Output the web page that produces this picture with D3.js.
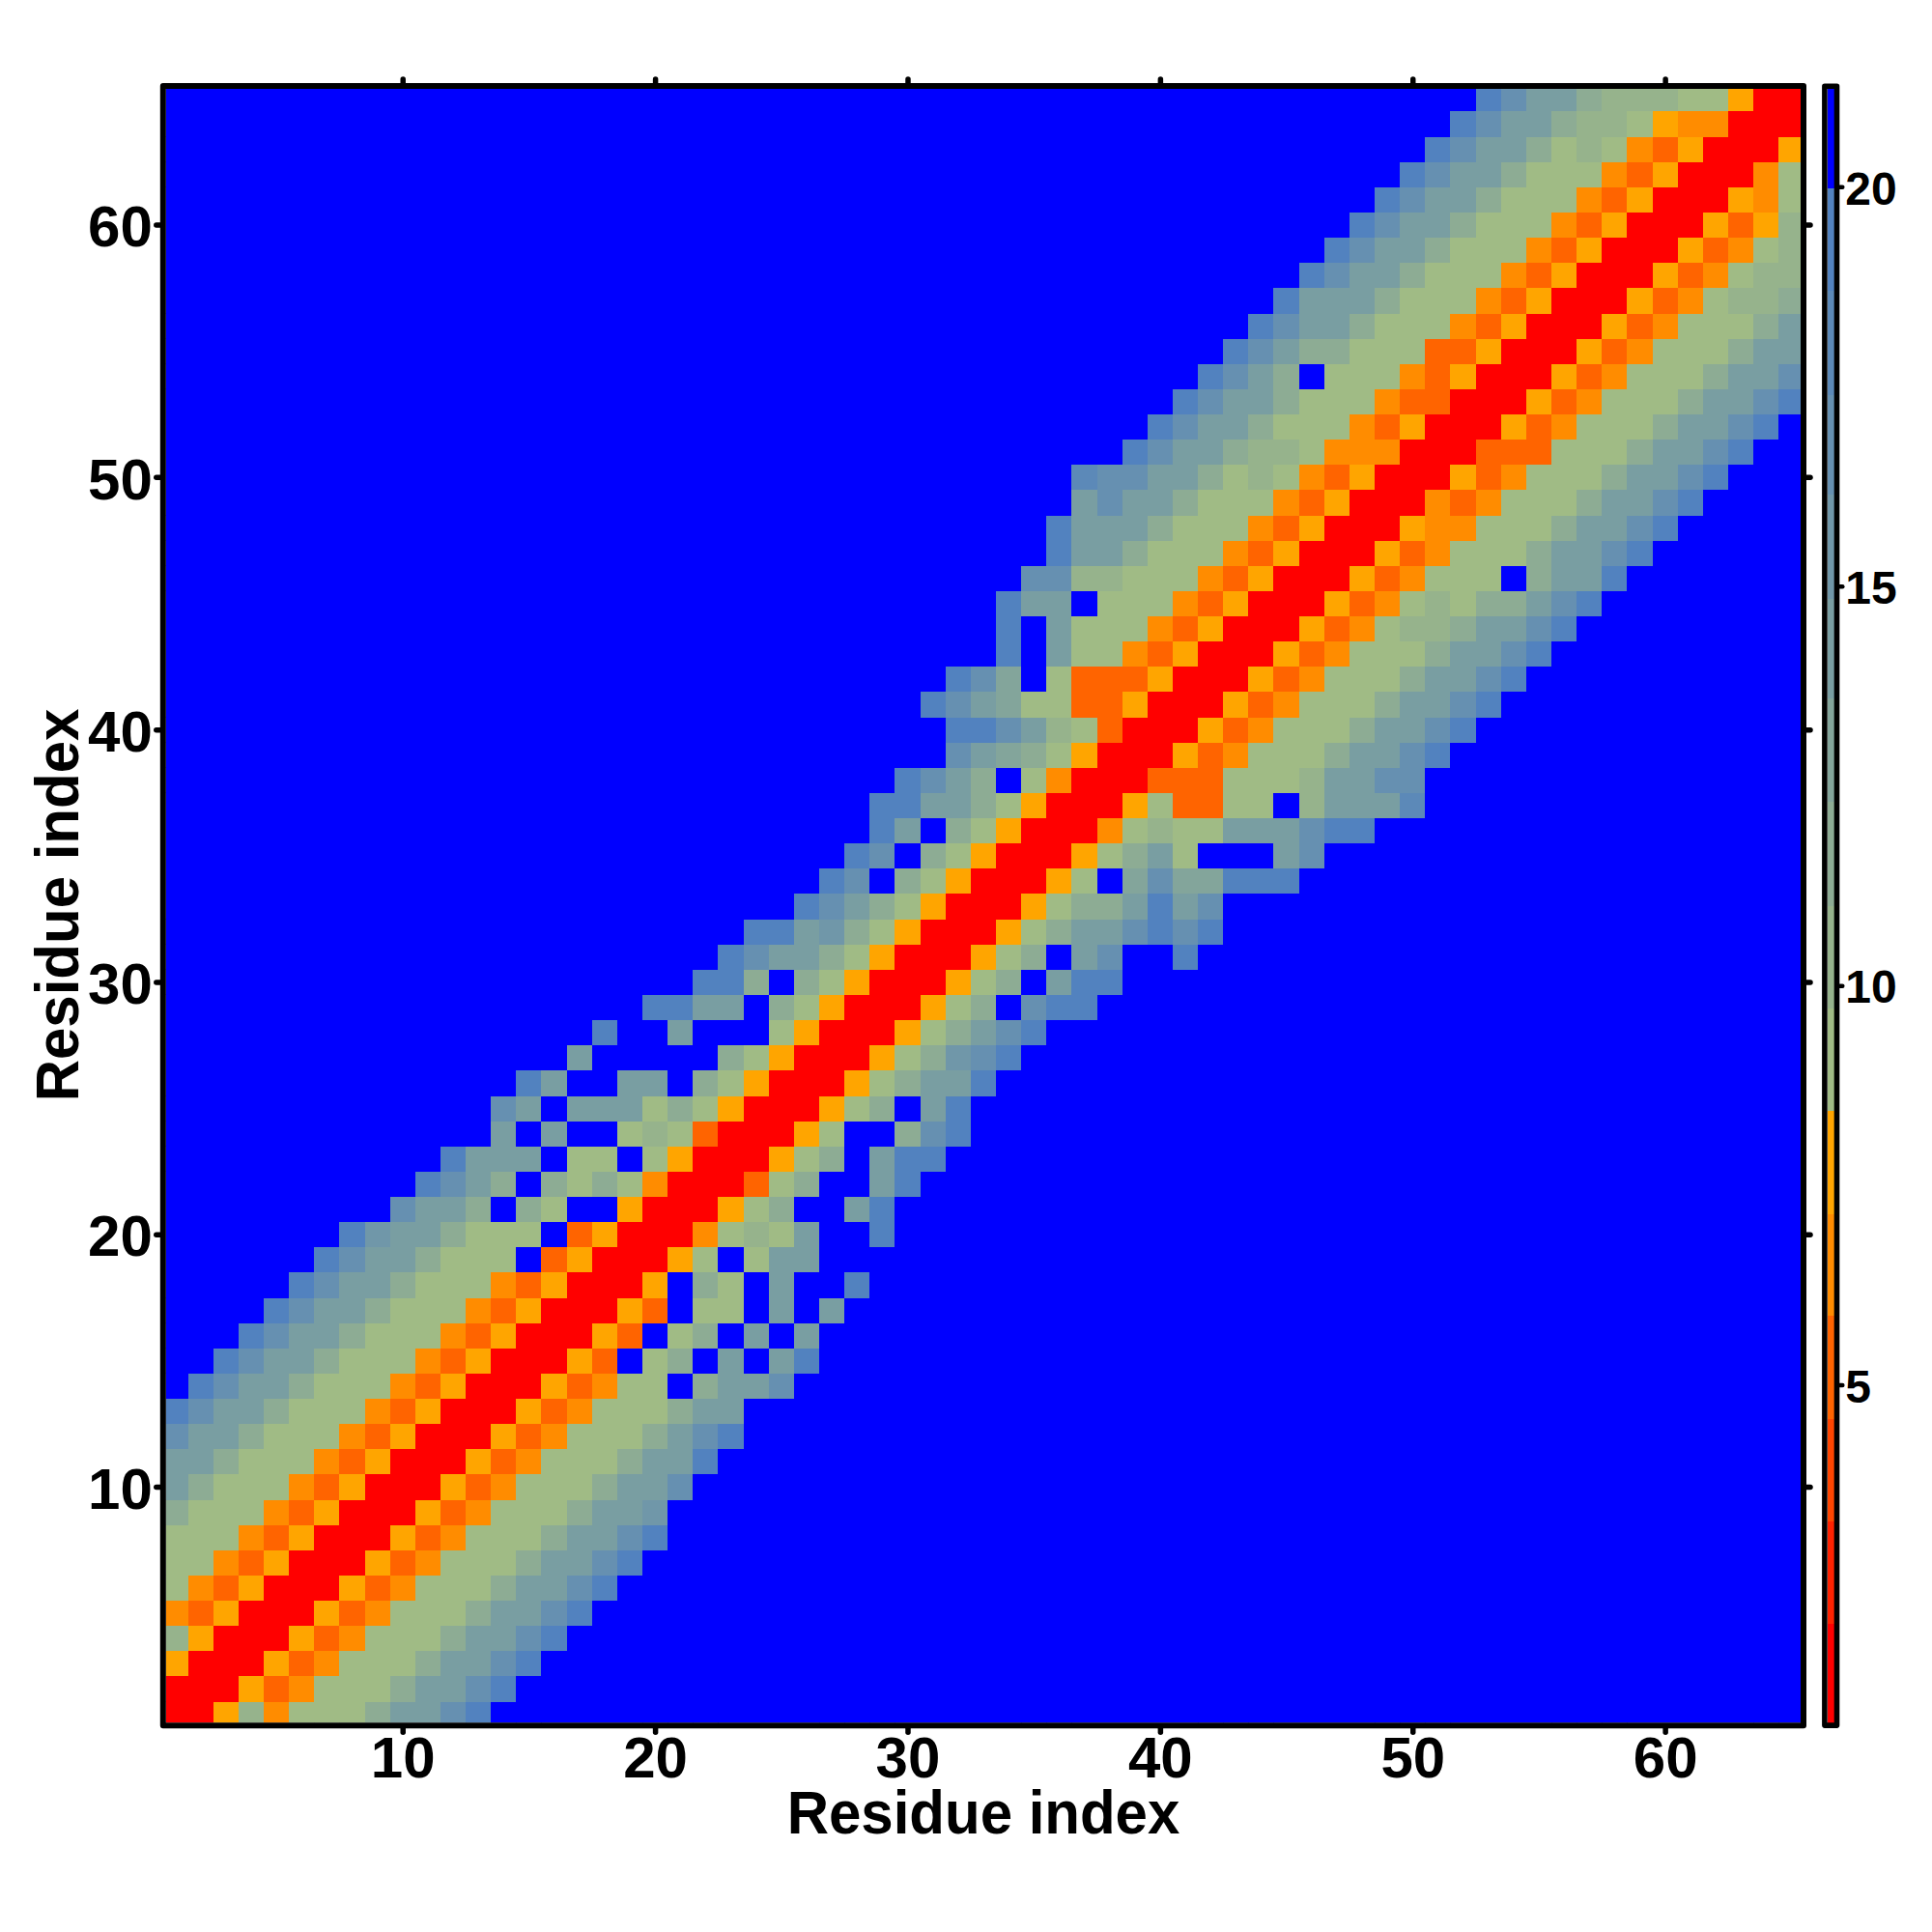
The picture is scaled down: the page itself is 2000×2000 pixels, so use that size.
<!DOCTYPE html>
<html><head><meta charset="utf-8">
<script src="https://cdn.jsdelivr.net/npm/d3@7"></script>
<style>html,body{margin:0;padding:0;background:#fff}svg{display:block}text{font-family:"Liberation Sans",Arial,sans-serif;font-weight:700;fill:#000}</style>
</head><body><svg id="c" width="2000" height="2000"></svg>
<script>
const residues = d3.range(1, 66);
const tickValues = [10, 20, 30, 40, 50, 60];
const colorbarTicks = [5, 10, 15, 20];
const axisTitle = "Residue index";
const levelBreaks = [2.01, 3.3, 4.58, 5.87, 7.14, 8.43, 9.72, 11.0, 12.3, 13.6, 14.85, 16.15, 17.4, 18.7, 19.98];
const levelColors = ["#ff0000", "#ff2200", "#ff4500", "#ff6400", "#ff8c00", "#ffa500", "#a0bb85", "#96b38c", "#8dac94", "#83a59b", "#799ea2", "#7097a9", "#6690b1", "#5c89b8", "#5282bf", "#0000ff"];
const beyondCutoff = 21;
// Each row starts on the diagonal (column = row) and runs to its last column below the cutoff.
const rowValues = [
[1.4,1.4,7.8,10.4,6.5,9,9,9,11.6,14.2,14.2,17,19.4],
[1.4,1.4,7.8,5.2,6.5,9,9,9,11.6,14.2,14.2,17,19.4],
[1.4,1.4,7.8,5.2,6.5,9,9,9,11.6,14.2,14.2,17,19.4],
[1.4,1.4,7.8,5.2,6.5,9,9,9,11.6,14.2,14.2,17,19.4],
[1.4,1.4,7.8,5.2,6.5,9,9,9,11.6,14.2,14.2,17,19.4],
[1.4,1.4,7.8,5.2,6.5,9,9,9,11.6,14.2,14.2,17,19.4],
[1.4,1.4,7.8,5.2,6.5,9,9,9,11.6,14.2,14.2,17,19.4],
[1.4,1.4,7.8,5.2,6.5,9,9,9,11.6,14.2,14.2,17,19.4],
[1.4,1.4,7.8,5.2,6.5,9,9,9,11.6,14.2,14.2,15.5],
[1.4,1.4,7.8,5.2,6.5,9,9,9,11.6,14.2,14.2,17],
[1.4,1.4,7.8,5.2,6.5,9,9,9,11.6,14.2,14.2,19.4],
[1.4,1.4,7.8,5.2,6.5,9,9,9,11.6,14.2,17,19.4],
[1.4,1.4,7.8,5.2,6.5,9,9,9,11.6,14.2,14.2],
[1.4,1.4,7.8,5.2,6.5,9,9,21,11.6,14.2,14.2,17],
[1.4,1.4,7.8,5.2,21,9,11.6,21,14.2,21,14.2,19.4],
[1.4,1.4,7.8,5.2,21,9,11.6,21,14.2,21,14.2],
[1.4,1.4,7.8,5.2,21,9,9,21,14.2,21,14.2],
[1.4,1.4,7.8,21,11.6,9,21,14.2,21,21,19.4],
[1.4,1.4,7.8,9,21,9,14.2,14.2],
[1.4,1.4,6.5,9,10.4,9,14.2,21,21,19.4],
[1.4,1.4,7.8,9,11.6,21,21,14.2,19.4],
[1.4,1.4,5.2,9,11.6,21,21,14.2,19.4],
[1.4,1.4,7.8,9,11.6,21,14.2,19.4,19.4],
[1.4,1.4,7.8,9,21,21,11.6,17,19.4],
[1.4,1.4,7.8,9,11.6,21,14.2,19.4],
[1.4,1.4,7.8,9,11.6,14.2,14.2,19.4],
[1.4,1.4,7.8,9,11.6,15.5,17,19.4],
[1.4,1.4,7.8,9,11.6,14.2,17,19.4],
[1.4,1.4,7.8,9,11.6,21,17,19.4,19.4],
[1.4,1.4,7.8,9,11.6,21,14.2,19.4,19.4],
[1.4,1.4,7.8,9,11.6,21,14.2,17,21,21,19.4],
[1.4,1.4,7.8,9,11.6,14.2,14.2,17,19.4,17,19.4],
[1.4,1.4,7.8,9,11.6,11.6,14.2,19.4,14.2,17],
[1.4,1.4,7.8,9,21,13,17,13,13,19.4,19.4,19.4],
[1.4,1.4,7.8,9,11.6,14.2,9,21,21,21,14.2,17],
[1.4,1.4,6.5,9,10.4,9,9,14.2,14.2,14.2,17,19.4,19.4],
[1.4,1.4,7.8,9,5.2,5.2,9,9,21,10.4,14.2,14.2,14.2,18],
[1.4,1.4,5.2,5.2,5.2,9,9,9,10.4,14.2,14.2,17,17],
[1.4,1.4,7.8,5.2,6.5,9,9,9,11.6,14.2,14.2,17,19.4],
[1.4,1.4,7.8,5.2,6.5,9,9,9,11.6,14.2,14.2,17,19.4],
[1.4,1.4,7.8,5.2,6.5,9,9,9,11.6,14.2,14.2,17,19.4],
[1.4,1.4,7.8,5.2,6.5,9,9,9,11.6,14.2,14.2,17,19.4],
[1.4,1.4,7.8,5.2,6.5,9,9,9,11.6,14.2,14.2,17,19.4],
[1.4,1.4,7.8,5.2,6.5,9,10.4,10.4,11.6,14.2,14.2,17,19.4],
[1.4,1.4,7.8,5.2,6.5,9,10.4,9,11.6,11.6,14.2,17,19.4],
[1.4,1.4,7.8,5.2,6.5,9,9,9,21,11.6,14.2,14.2,19.4],
[1.4,1.4,7.8,5.2,6.5,9,9,9,11.6,14.2,14.2,17,19.4],
[1.4,1.4,7.8,6.5,6.5,9,9,9,11.6,14.2,14.2,17,19.4],
[1.4,1.4,6.5,5.2,6.5,9,9,9,11.6,14.2,14.2,17,19.4],
[1.4,1.4,7.8,5.2,6.5,9,9,9,11.6,14.2,14.2,17,19.4],
[1.4,1.4,5.2,5.2,5.2,9,9,9,11.6,14.2,14.2,17,19.4],
[1.4,1.4,7.8,5.2,6.5,9,9,9,11.6,14.2,14.2,17,19.4],
[1.4,1.4,7.8,5.2,6.5,9,9,9,11.6,14.2,14.2,17,19.4],
[1.4,1.4,7.8,5.2,6.5,9,9,9,11.6,14.2,14.2,17],
[1.4,1.4,7.8,5.2,6.5,9,9,9,11.6,14.2,14.2],
[1.4,1.4,7.8,5.2,6.5,9,9,9,11.6,14.2],
[1.4,1.4,7.8,5.2,6.5,9,10.4,10.4,11.6],
[1.4,1.4,7.8,5.2,6.5,9,10.4,10.4],
[1.4,1.4,7.8,5.2,6.5,9,10.4],
[1.4,1.4,7.8,5.2,7.8,10.4],
[1.4,1.4,7.8,6.5,9],
[1.4,1.4,6.5,9],
[1.4,1.4,7.8],
[1.4,1.4],
[1.4]
];

const cells = [];
residues.forEach(r => residues.forEach(c => {
  const lo = Math.min(r, c), hi = Math.max(r, c);
  const row = rowValues[lo - 1];
  const v = row[hi - lo];
  cells.push({r, c, v: v === undefined ? beyondCutoff : v});
}));

const plotL = 171.8, plotR = 1864, plotT = 92, plotB = 1783.3;
const x = d3.scaleLinear().domain([0.63, 65.37]).range([plotL, plotR]);
const y = d3.scaleLinear().domain([0.65, 65.38]).range([plotB, plotT]);
const color = d3.scaleThreshold().domain(levelBreaks).range(levelColors);

const svg = d3.select("#c");
svg.append("rect").attr("width", 2000).attr("height", 2000).attr("fill", "#fff");
svg.append("clipPath").attr("id", "plotClip").append("rect")
  .attr("x", plotL).attr("y", plotT).attr("width", plotR - plotL).attr("height", plotB - plotT);

svg.append("g").attr("clip-path", "url(#plotClip)").attr("shape-rendering", "crispEdges")
  .selectAll("rect").data(cells).join("rect")
  .attr("x", d => x(d.c - 0.5)).attr("y", d => y(d.r + 0.5))
  .attr("width", d => x(d.c + 0.5) - x(d.c - 0.5) + 0.5)
  .attr("height", d => y(d.r - 0.5) - y(d.r + 0.5) + 0.5)
  .attr("fill", d => color(d.v));

const frameW = 6;
svg.append("rect").attr("x", plotL - frameW/2).attr("y", plotT - frameW/2)
  .attr("width", plotR - plotL + frameW).attr("height", plotB - plotT + frameW)
  .attr("fill", "none").attr("stroke", "#000").attr("stroke-width", frameW).attr("stroke-linejoin", "round");

function style(g, size) {
  g.select(".domain").remove();
  g.selectAll(".tick line").attr("stroke", "#000").attr("stroke-width", 5.5).attr("stroke-linecap", "round");
  g.selectAll(".tick text").style("font-size", size + "px");
}
const tickOut = 4;
const xB = svg.append("g").attr("transform", `translate(0,${plotB + frameW})`)
  .call(d3.axisBottom(x).tickValues(tickValues).tickSize(tickOut).tickPadding(4).tickFormat(d3.format("d")));
style(xB, 60);
const xT = svg.append("g").attr("transform", `translate(0,${plotT - frameW})`)
  .call(d3.axisTop(x).tickValues(tickValues).tickSize(tickOut).tickFormat(""));
style(xT, 60);
const yL = svg.append("g").attr("transform", `translate(${plotL - frameW},0)`)
  .call(d3.axisLeft(y).tickValues(tickValues).tickSize(tickOut).tickPadding(4).tickFormat(d3.format("d")));
style(yL, 60);
yL.selectAll(".tick text").attr("dy", "0.37em");
const yR = svg.append("g").attr("transform", `translate(${plotR + frameW},0)`)
  .call(d3.axisRight(y).tickValues(tickValues).tickSize(tickOut).tickFormat(""));
style(yR, 60);

svg.append("text").attr("transform", "translate(1018,1898) scale(1,1.05)").attr("text-anchor", "middle").style("font-size", "60px").text(axisTitle);
svg.append("text").attr("transform", "translate(81,937) rotate(-90) scale(1,1.06)").attr("text-anchor", "middle").style("font-size", "60px").text(axisTitle);

// colour bar
const cbL = 1891.7, cbR = 1898.7;
const cbW = 5.6;
const cbScale = d3.scaleLinear().domain([5, 20]).range([1433.6, 193.3]);
const cbMin = cbScale.invert(plotB), cbMax = cbScale.invert(plotT);
const edges = [cbMin, ...levelBreaks, cbMax];
svg.append("g").attr("shape-rendering", "crispEdges").selectAll("rect").data(levelColors).join("rect")
  .attr("x", cbL).attr("width", cbR - cbL)
  .attr("y", (d, i) => cbScale(edges[i + 1]))
  .attr("height", (d, i) => cbScale(edges[i]) - cbScale(edges[i + 1]) + 0.5)
  .attr("fill", d => d);
svg.append("rect").attr("x", cbL - cbW/2).attr("y", plotT - cbW/2)
  .attr("width", cbR - cbL + cbW).attr("height", plotB - plotT + cbW)
  .attr("fill", "none").attr("stroke", "#000").attr("stroke-width", cbW).attr("stroke-linejoin", "round");
const cb = svg.append("g").attr("transform", `translate(${cbR + cbW},0)`)
  .call(d3.axisRight(cbScale).tickValues(colorbarTicks).tickSize(3).tickPadding(3).tickFormat(d3.format("d")));
style(cb, 48);
cb.selectAll(".tick line").attr("stroke-width", 4.5);
cb.selectAll(".tick text").attr("dy", "0.37em");
</script></body></html>
